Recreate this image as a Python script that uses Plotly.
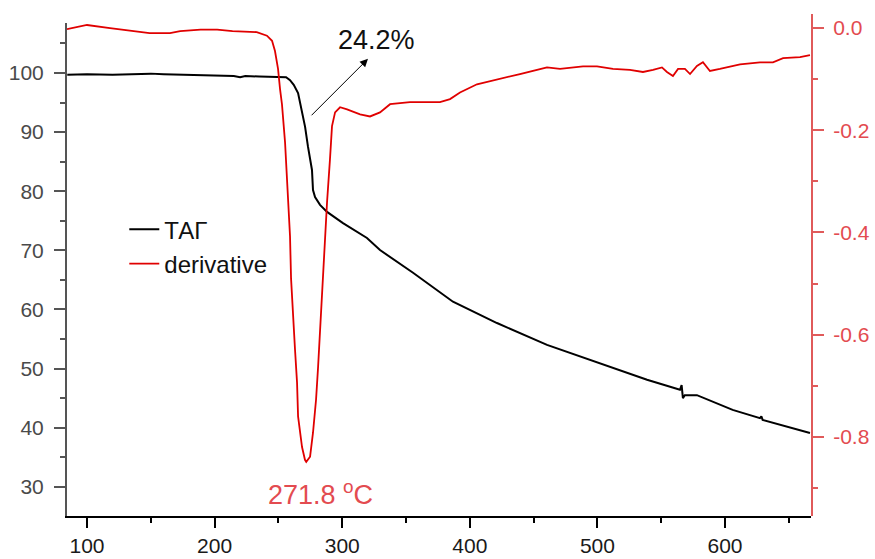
import plotly.graph_objects as go

# Thermogravimetric curve (mass, %) versus temperature (°C)
tag_temp = [84.5, 100, 120, 140, 150, 160, 180, 200, 215, 220, 224, 235, 250, 256,
            259.1, 262, 265.4, 268.5, 270.9, 273.2, 276.3, 277.1, 278.7, 282.6, 288.1,
            300.6, 319.4, 329.6, 355.5, 386.8, 421.3, 460.5, 499.7, 538.9, 564.7,
            566, 567, 568.5, 578, 606, 627.4, 628.5, 629.5, 637.6, 666.6]
tag_mass = [99.7, 99.8, 99.7, 99.8, 99.9, 99.8, 99.7, 99.6, 99.5, 99.3, 99.5, 99.4, 99.4, 99.3,
            98.8, 98.0, 96.6, 93.7, 90.9, 87.5, 83.6, 80.2, 79.0, 77.7, 76.5,
            74.6, 72.1, 70.05, 66.2, 61.3, 57.7, 54.0, 51.1, 48.1, 46.4,
            47.2, 45.0, 45.5, 45.5, 43.0, 41.6, 41.9, 41.3, 40.8, 39.1]

# Derivative curve (right axis)
der_temp = [84.3, 100, 118, 136, 149, 165, 173, 189, 202, 214, 233, 241, 245, 247.3,
            249.7, 251.3, 252.8, 255.2, 257.5, 259.1, 259.9, 261.4, 263, 264.6, 265.4,
            268.5, 270.8, 271.8, 274.8, 277.1, 279.5, 281.1, 281.8, 284.2, 286.5, 288.1,
            290.4, 292, 294.4, 298.3, 303.8, 314, 321.8, 329.6, 337.5, 353.1, 366.5,
            376.6, 384.5, 392.3, 405.6, 423.7, 439.3, 449.5, 460.5, 470.7, 488.7, 499.7,
            512.2, 525.5, 535.7, 543.6, 550.6, 554.5, 559.2, 563.2, 568.6, 572.6, 578,
            582.7, 588.2, 596, 611.8, 627.4, 637.6, 645.5, 658.8, 666.6]
der_val = [-0.002, 0.006, 0.0, -0.006, -0.010, -0.010, -0.006, -0.003, -0.003, -0.006, -0.008,
           -0.015, -0.025, -0.045, -0.08, -0.12, -0.15, -0.224, -0.322, -0.408, -0.49, -0.57,
           -0.629, -0.694, -0.76, -0.82, -0.845, -0.849, -0.839, -0.792, -0.727, -0.663,
           -0.629, -0.52, -0.408, -0.341, -0.257, -0.192, -0.165, -0.155, -0.159, -0.169,
           -0.173, -0.165, -0.149, -0.145, -0.145, -0.145, -0.139, -0.126, -0.110, -0.100,
           -0.090, -0.084, -0.077, -0.080, -0.075, -0.075, -0.080, -0.082, -0.086, -0.082,
           -0.077, -0.086, -0.094, -0.080, -0.080, -0.090, -0.074, -0.067, -0.084, -0.080,
           -0.071, -0.067, -0.067, -0.059, -0.057, -0.053]

peak_temp = 271.8
mass_loss = 24.2

x_ticks = [100, 200, 300, 400, 500, 600]
y_ticks = [30, 40, 50, 60, 70, 80, 90, 100]
y2_ticks = [0.0, -0.2, -0.4, -0.6, -0.8]
y2_labels = ["0.0", "-0.2", "-0.4", "-0.6", "-0.8"]

FONT = "Liberation Sans, Arial, sans-serif"
RED_LINE = "#e00000"
RED_AXIS = "#e05a5a"
RED_TEXT = "#e34b50"

fig = go.Figure()
fig.add_trace(go.Scatter(x=tag_temp, y=tag_mass, mode="lines", name="ТАГ",
                         line=dict(color="#000000", width=2), yaxis="y"))
fig.add_trace(go.Scatter(x=der_temp, y=der_val, mode="lines", name="derivative",
                         line=dict(color=RED_LINE, width=1.8), yaxis="y2"))

# Arrow pointing towards the mass-loss label
fig.add_annotation(x=320.2, y=102.4, ax=274.8, ay=92.6, xref="x", yref="y",
                   axref="x", ayref="y", text="", showarrow=True,
                   arrowhead=2, arrowsize=1.6, arrowwidth=1, arrowcolor="#000000")
fig.add_annotation(x=327, y=105.6, xref="x", yref="y", text=f"{mass_loss}%",
                   showarrow=False, font=dict(family=FONT, size=27, color="#111111"))
fig.add_annotation(x=peak_temp + 11.5, y=29.0, xref="x", yref="y",
                   text=f"{peak_temp} <sup>o</sup>C", showarrow=False,
                   font=dict(family=FONT, size=27, color=RED_TEXT))

fig.update_layout(
    width=875, height=559,
    margin=dict(l=67, r=64, t=14, b=43),
    plot_bgcolor="rgba(0,0,0,0)", paper_bgcolor="white",
    font=dict(family=FONT, size=20),
    showlegend=True,
    legend=dict(x=0.077, y=0.615, xanchor="left", yanchor="top",
                bgcolor="rgba(0,0,0,0)", font=dict(family=FONT, size=24, color="#111111"),
                itemwidth=30, tracegroupgap=0),
    xaxis=dict(range=[84.3, 667.4], tickvals=x_ticks, showgrid=False, zeroline=False,
               showline=True, linecolor="#000000", linewidth=2, mirror=False,
               automargin=False,
               ticks="outside", ticklen=10, tickwidth=2, tickcolor="#000000",
               ticklabelstandoff=0,
               tickfont=dict(family=FONT, size=21, color="#1a1a1a"),
               minor=dict(tick0=50, dtick=100, ticks="outside", ticklen=5,
                          tickwidth=2, tickcolor="#000000")),
    yaxis=dict(range=[25.05, 108.46], domain=[0, 0.982], tickvals=y_ticks,
               showgrid=False, zeroline=False, showline=True, linecolor="#555555",
               automargin=False,
               linewidth=2, ticks="outside", ticklen=11, tickwidth=2, tickcolor="#555555",
               ticklabelstandoff=6,
               tickfont=dict(family=FONT, size=21, color="#4a4a4a"),
               minor=dict(tick0=25, dtick=10, ticks="outside", ticklen=5,
                          tickwidth=2, tickcolor="#555555")),
    yaxis2=dict(range=[-0.955, 0.0275], domain=[0, 1], anchor="x", side="right",
                tickvals=y2_ticks, ticktext=y2_labels, showgrid=False, zeroline=False,
                automargin=False,
                showline=True, linecolor=RED_AXIS, linewidth=2, ticks="outside",
                ticklen=11, tickwidth=2, tickcolor=RED_AXIS, ticklabelstandoff=5,
                tickfont=dict(family=FONT, size=21, color=RED_TEXT),
                minor=dict(tick0=-0.1, dtick=0.2, ticks="outside", ticklen=5,
                           tickwidth=2, tickcolor=RED_AXIS)),
)

fig.write_html("out.html")
